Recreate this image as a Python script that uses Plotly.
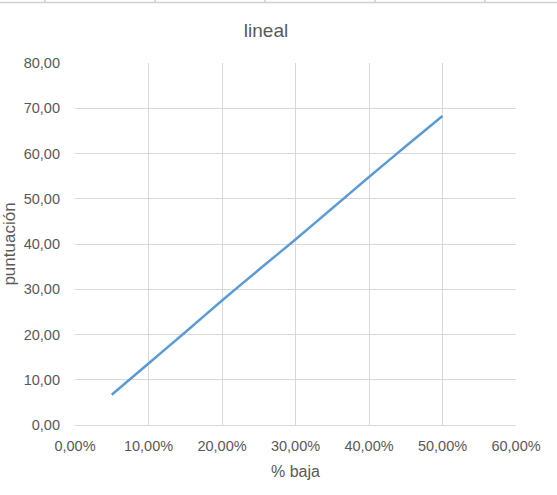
import plotly.graph_objects as go

x_baja = [0.05, 0.10, 0.15, 0.20, 0.25, 0.30, 0.35, 0.40, 0.45, 0.50]
puntuacion = [6.7, 13.6, 20.5, 27.5, 34.3, 41.0, 47.9, 54.8, 61.6, 68.3]

title_text = "lineal"
x_title = "% baja"
y_title = "puntuación"

font_family = "Liberation Sans, Arial, sans-serif"
grey = "#595959"
grid = "#D9D9D9"

W, H = 557, 495
L, R, T, B = 75, 41, 63, 70
pw, ph = W - L - R, H - T - B

fig = go.Figure()
fig.add_trace(go.Scatter(
    x=x_baja, y=puntuacion, mode="lines",
    line=dict(color="#5B9BD5", width=2.5, shape="spline", smoothing=0.3),
    showlegend=False, hoverinfo="x+y",
))

# decorative border of a neighbouring chart cut off at the top of the image
def px_x(p):
    return (p - L) / pw

def px_y(p):
    return (H - B - p) / ph

shapes = [dict(type="line", xref="paper", yref="paper",
               x0=px_x(0), x1=px_x(W), y0=px_y(2.5), y1=px_y(2.5),
               line=dict(color="#D0D0D0", width=1.5))]
for tx in [45, 155, 265, 375, 485]:
    shapes.append(dict(type="line", xref="paper", yref="paper",
                       x0=px_x(tx), x1=px_x(tx), y0=px_y(0), y1=px_y(2.5),
                       line=dict(color="#D0D0D0", width=1.5)))

fig.update_layout(
    width=W, height=H,
    margin=dict(l=L, r=R, t=T, b=B, autoexpand=False),
    paper_bgcolor="white", plot_bgcolor="white",
    separators=", ",
    font=dict(family=font_family, size=14.5, color=grey),
    title=dict(text=title_text, x=266 / W, xref="container", xanchor="center",
               y=1 - 30 / H, yref="container", yanchor="middle",
               font=dict(family=font_family, size=19, color=grey)),
    xaxis=dict(range=[0, 0.6], dtick=0.1, tick0=0, tickformat=".2%",
               showgrid=True, gridcolor=grid, gridwidth=1,
               zeroline=False, showline=True, linecolor=grid,
               ticks="", ticklabelstandoff=8,
               title=dict(text=x_title, standoff=12, font=dict(size=16, color=grey))),
    yaxis=dict(range=[0, 80], dtick=10, tick0=0, tickformat=".2f",
               showgrid=True, gridcolor=grid, gridwidth=1,
               zeroline=False, showline=False, ticks="", ticklabelstandoff=14,
               title=dict(text=y_title, standoff=6, font=dict(size=17, color=grey))),
    shapes=shapes,
)

fig.write_html("out.html", config={"displayModeBar": False},
               post_script="document.body.style.margin='0';document.body.style.padding='0';")
